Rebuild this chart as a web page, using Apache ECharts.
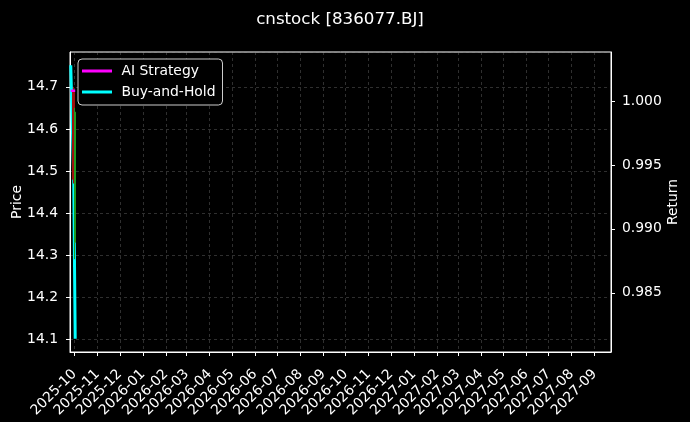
<!DOCTYPE html>
<html>
<head>
<meta charset="utf-8">
<script src="https://cdn.jsdelivr.net/npm/echarts@6/dist/echarts.min.js"></script>
<style>
html,body{margin:0;padding:0;background:#000;}
#c{width:690px;height:422px;}
</style>
</head>
<body>
<div id="c"></div>
<script>
// ---- data ----
const title = 'cnstock [836077.BJ]';
const lineDates = ['2025-09-26', '2025-09-30', '2025-10-02'];
const aiStrategy = [1.0008, 1.0008, 1.0008];
const buyAndHold = [1.0028, 0.9939, 0.9814];
const candleDates = ['2025-09-30', '2025-10-02'];
const candleOpen = [14.69, 14.33];
const candleClose = [14.48, 14.64];
const candleLow = [14.47, 14.29];
const candleHigh = [14.70, 14.65];
const xRange = ['2025-09-25', '2027-09-23'];
const priceRange = [14.069, 14.783];
const returnRange = [0.98037, 1.00383];

const FONT = 'DejaVu Sans';
const FS = 13.9;
const chart = echarts.init(document.getElementById('c'));
const candleData = candleDates.map((d, i) => [d, candleOpen[i], candleClose[i], candleLow[i], candleHigh[i]]);
const gridLine = {show: true, lineStyle: {color: 'rgba(150,150,150,0.45)', type: [3, 3], width: 0.7}};

chart.setOption({
  backgroundColor: '#000',
  animation: false,
  textStyle: {fontFamily: FONT},
  title: {
    text: title, left: 340, textAlign: 'center', top: 11, padding: 0,
    textStyle: {color: '#fff', fontSize: 16.7, fontWeight: 'normal', fontFamily: FONT}
  },
  legend: {
    left: 78, top: 59, orient: 'vertical',
    data: ['AI Strategy', 'Buy-and-Hold'],
    formatter: n => ' ' + n,
    icon: 'rect', itemWidth: 30, itemHeight: 3, itemGap: 7,
    padding: [5, 7, 6, 4],
    backgroundColor: '#000', borderColor: 'rgba(255,255,255,0.8)', borderWidth: 1, borderRadius: 4,
    textStyle: {color: '#fff', fontSize: FS, fontFamily: FONT}
  },
  grid: {left: 70, right: 79, top: 52, bottom: 70, containLabel: false, outerBoundsMode: 'none',
    show: true, borderColor: '#fff', borderWidth: 1, backgroundColor: '#000'},
  xAxis: {
    type: 'time', min: xRange[0], max: xRange[1],
    minInterval: 28 * 86400000, maxInterval: 31 * 86400000,
    axisLine: {show: true, lineStyle: {color: '#fff'}},
    axisTick: {show: true, length: 4, lineStyle: {color: '#fff'}},
    axisLabel: {color: '#fff', fontSize: FS, fontFamily: FONT, rotate: 45, margin: 20,
      align: 'right', verticalAlign: 'middle',
      formatter: '{yyyy}-{MM}', showMinLabel: false, showMaxLabel: false, hideOverlap: false},
    splitLine: gridLine
  },
  yAxis: [{
    type: 'value', min: priceRange[0], max: priceRange[1], splitNumber: 7, scale: true,
    name: 'Price', nameLocation: 'middle', nameGap: 46, nameRotate: 90, nameMoveOverlap: false,
    nameTextStyle: {color: '#fff', fontSize: FS, fontFamily: FONT},
    axisLine: {show: true, lineStyle: {color: '#fff'}},
    axisTick: {show: true, length: 4, lineStyle: {color: '#fff'}},
    axisLabel: {color: '#fff', fontSize: FS, fontFamily: FONT, margin: 12, showMinLabel: false, showMaxLabel: false,
      formatter: v => v.toFixed(1)},
    splitLine: gridLine
  }, {
    type: 'value', min: returnRange[0], max: returnRange[1], splitNumber: 5, scale: true, position: 'right',
    name: 'Return', nameLocation: 'middle', nameGap: 55, nameRotate: 90, nameMoveOverlap: false,
    nameTextStyle: {color: '#fff', fontSize: FS, fontFamily: FONT},
    axisLine: {show: true, lineStyle: {color: '#fff'}},
    axisTick: {show: true, length: 4, lineStyle: {color: '#fff'}},
    axisLabel: {color: '#fff', fontSize: FS, fontFamily: FONT, margin: 11, showMinLabel: false, showMaxLabel: false,
      formatter: v => v.toFixed(3)},
    splitLine: {show: false}
  }],
  series: [{
    name: 'Buy-and-Hold', type: 'line', yAxisIndex: 1, z: 2,
    data: lineDates.map((d, i) => [d, buyAndHold[i]]),
    showSymbol: false, lineStyle: {color: '#00ffff', width: 3}, itemStyle: {color: '#00ffff'}
  }, {
    name: 'Price', type: 'candlestick', yAxisIndex: 0, z: 3,
    data: candleData, encode: {x: 0, y: [1, 2, 3, 4]}, barWidth: 2,
    itemStyle: {color: '#1f9a1f', color0: '#a01010', borderColor: '#1f9a1f', borderColor0: '#a01010', borderWidth: 1}
  }, {
    name: 'AI Strategy', type: 'line', yAxisIndex: 1, z: 4,
    data: lineDates.map((d, i) => [d, aiStrategy[i]]),
    showSymbol: false, lineStyle: {color: '#ff00ff', width: 2.5}, itemStyle: {color: '#ff00ff'}
  }]
});
</script>
</body>
</html>
